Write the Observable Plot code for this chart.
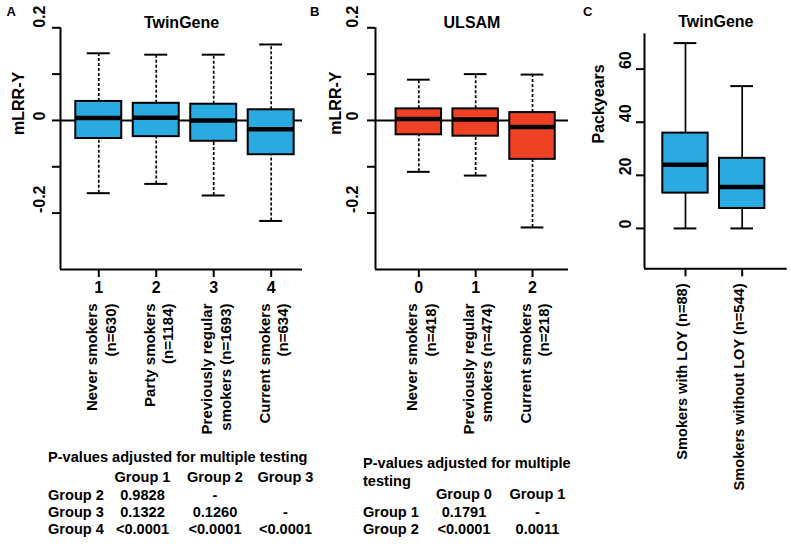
<!DOCTYPE html>
<html>
<head>
<meta charset="utf-8">
<script src="https://cdn.jsdelivr.net/npm/d3@7"></script>
<script src="https://cdn.jsdelivr.net/npm/@observablehq/plot@0.6"></script>
<style>
  html, body { margin: 0; padding: 0; background: #fff; }
  #root { position: relative; width: 791px; height: 544px; overflow: hidden; background: #fff;
          font-family: "Liberation Sans", Arial, Helvetica, sans-serif; font-weight: bold; color: #000; }
  #root svg { position: absolute; top: 0; background: none; overflow: visible; max-width: none; }
  .cell { position: absolute; white-space: pre; font-size: 14.6px; }
  .letter { position: absolute; font-size: 13px; line-height: 13px; }
</style>
</head>
<body>
<div id="root"></div>
<script>
// ---------------- DATA ----------------
// Panel A: TwinGene, mLRR-Y by smoking group
const groupsA = ["1", "2", "3", "4"];
const labelsA = ["Never smokers\n(n=630)", "Party smokers\n(n=1184)", "Previously regular\nsmokers (n=1693)", "Current smokers\n(n=634)"];
const minA = [-0.157, -0.137, -0.162, -0.217];
const q1A  = [-0.039, -0.035, -0.045, -0.074];
const medA = [0.005, 0.006, 0.000, -0.019];
const q3A  = [0.041, 0.037, 0.035, 0.023];
const maxA = [0.145, 0.142, 0.142, 0.164];

// Panel B: ULSAM
const groupsB = ["0", "1", "2"];
const labelsB = ["Never smokers\n(n=418)", "Previously regular\nsmokers (n=474)", "Current smokers\n(n=218)"];
const minB = [-0.111, -0.119, -0.231];
const q1B  = [-0.031, -0.034, -0.084];
const medB = [0.003, 0.002, -0.014];
const q3B  = [0.025, 0.025, 0.017];
const maxB = [0.088, 0.100, 0.099];

// Panel C: TwinGene packyears
const labelsC = ["Smokers with LOY", "Smokers without LOY"];
const countsC = ["(n=88)", "(n=544)"];
const minC = [0, 0];
const q1C  = [13.3, 7.5];
const medC = [24.0, 15.6];
const q3C  = [35.9, 26.4];
const maxC = [69.8, 53.6];

// Axis ticks
const mlrrTicks = [-0.2, -0.1, 0, 0.1, 0.2];
const mlrrTickLabels = [-0.2, 0, 0.2];
const packTicks = [0, 20, 40, 60];

// P-value tables
const pTitleA = ["P-values adjusted for multiple testing"];
const pColsA = ["Group 1", "Group 2", "Group 3"];
const pRowsA = ["Group 2", "Group 3", "Group 4"];
const pValsA = [["0.9828", "-", ""], ["0.1322", "0.1260", "-"], ["<0.0001", "<0.0001", "<0.0001"]];

const pTitleB = ["P-values adjusted for multiple", "testing"];
const pColsB = ["Group 0", "Group 1"];
const pRowsB = ["Group 1", "Group 2"];
const pValsB = [["0.1791", "-"], ["<0.0001", "0.0011"]];

// ---------------- HELPERS ----------------
const FONT = "'Liberation Sans', Arial, Helvetica, sans-serif";
const BLUE = "#29ABE2";
const RED = "#EF4123";
const BOX = 0.4, CAP = 0.2;

function rowsOf(groups, labels, mn, q1, md, q3, mx) {
  return groups.map((g, i) => ({pos: i + 1, group: g, label: labels[i], min: mn[i], q1: q1[i], med: md[i], q3: q3[i], max: mx[i]}));
}

function boxMarks(rows, fill, dashed) {
  const dash = dashed ? {strokeDasharray: "3,2"} : {};
  return [
    Plot.ruleX(rows, {x: "pos", y1: "q3", y2: "max", stroke: "black", strokeWidth: 1.7, ...dash}),
    Plot.ruleX(rows, {x: "pos", y1: "min", y2: "q1", stroke: "black", strokeWidth: 1.7, ...dash}),
    Plot.ruleY(rows, {y: "max", x1: d => d.pos - CAP, x2: d => d.pos + CAP, stroke: "black", strokeWidth: 2}),
    Plot.ruleY(rows, {y: "min", x1: d => d.pos - CAP, x2: d => d.pos + CAP, stroke: "black", strokeWidth: 2}),
    Plot.rect(rows, {x1: d => d.pos - BOX, x2: d => d.pos + BOX, y1: "q1", y2: "q3", fill, stroke: "black", strokeWidth: 2}),
    Plot.ruleY(rows, {y: "med", x1: d => d.pos - BOX, x2: d => d.pos + BOX, stroke: "black", strokeWidth: 4.5})
  ];
}

function frameMarks(xDomain, yDomain) {
  return [
    Plot.ruleX([xDomain[0]], {stroke: "black", strokeWidth: 2}),
    Plot.ruleY([yDomain[0]], {stroke: "black", strokeWidth: 2})
  ];
}

const root = document.getElementById("root");

function place(svg, left) {
  svg.style.left = left + "px";
  root.appendChild(svg);
}

// ---------------- PANEL A ----------------
const rowsA = rowsOf(groupsA, labelsA, minA, q1A, medA, q3A, maxA);
const xDomA = [0.334, 4.545], yDomA = [-0.3218, 0.2];
const plotA = Plot.plot({
  width: 310, height: 445,
  marginLeft: 60, marginRight: 8, marginTop: 27.3, marginBottom: 176,
  x: {domain: xDomA}, y: {domain: yDomA},
  style: {fontFamily: FONT, fontWeight: "bold", background: "none", overflow: "visible"},
  marks: [
    Plot.ruleY([0], {stroke: "black", strokeWidth: 2}),
    ...boxMarks(rowsA, BLUE, true),
    ...frameMarks(xDomA, yDomA),
    Plot.axisY({ticks: mlrrTicks, tickSize: 8, tickFormat: () => "", strokeWidth: 2, label: null}),
    Plot.axisX({ticks: rowsA.map(d => d.pos), tickSize: 8, tickFormat: () => "", strokeWidth: 2, label: null}),
    Plot.text(mlrrTickLabels, {y: d => d, text: d => String(d), frameAnchor: "left", dx: -21, rotate: -90, fontSize: 16}),
    Plot.text(["mLRR-Y"], {text: d => d, frameAnchor: "left", dx: -42, dy: -13.7, rotate: -90, fontSize: 16}),
    Plot.text(["TwinGene"], {text: d => d, frameAnchor: "top", dy: -10.8, fontSize: 16}),
    Plot.text(rowsA, {x: "pos", text: "group", frameAnchor: "bottom", dy: 23.7, fontSize: 16}),
    Plot.text(rowsA, {x: "pos", text: "label", frameAnchor: "bottom", dy: 34, dx: 1.8, rotate: -90, textAnchor: "end", lineAnchor: "middle", lineHeight: 1.22, fontSize: 15})
  ]
});
place(plotA, 0);

// ---------------- PANEL B ----------------
const rowsB = rowsOf(groupsB, labelsB, minB, q1B, medB, q3B, maxB);
const xDomB = [0.238, 3.633], yDomB = [-0.3218, 0.2];
const plotB = Plot.plot({
  width: 275, height: 445,
  marginLeft: 75, marginRight: 7, marginTop: 27.3, marginBottom: 176,
  x: {domain: xDomB}, y: {domain: yDomB},
  style: {fontFamily: FONT, fontWeight: "bold", background: "none", overflow: "visible"},
  marks: [
    Plot.ruleY([0], {stroke: "black", strokeWidth: 2}),
    ...boxMarks(rowsB, RED, true),
    ...frameMarks(xDomB, yDomB),
    Plot.axisY({ticks: mlrrTicks, tickSize: 8, tickFormat: () => "", strokeWidth: 2, label: null}),
    Plot.axisX({ticks: rowsB.map(d => d.pos), tickSize: 8, tickFormat: () => "", strokeWidth: 2, label: null}),
    Plot.text(mlrrTickLabels, {y: d => d, text: d => String(d), frameAnchor: "left", dx: -23, rotate: -90, fontSize: 16}),
    Plot.text(["mLRR-Y"], {text: d => d, frameAnchor: "left", dx: -40, dy: -14, rotate: -90, fontSize: 16}),
    Plot.text(["ULSAM"], {text: d => d, frameAnchor: "top", dy: -10.8, fontSize: 16}),
    Plot.text(rowsB, {x: "pos", text: "group", frameAnchor: "bottom", dy: 23.7, fontSize: 16}),
    Plot.text(rowsB, {x: "pos", text: "label", frameAnchor: "bottom", dy: 34, dx: 1.8, rotate: -90, textAnchor: "end", lineAnchor: "middle", lineHeight: 1.22, fontSize: 15})
  ]
});
place(plotB, 300);

// ---------------- PANEL C ----------------
const rowsC = rowsOf(labelsC, labelsC, minC, q1C, medC, q3C, maxC).map((d, i) => ({...d, n: countsC[i]}));
const xDomC = [0.277, 2.794], yDomC = [-15.2, 73.3];
const plotC = Plot.plot({
  width: 231, height: 500,
  marginLeft: 84, marginRight: 4.3, marginTop: 33.3, marginBottom: 231.7,
  x: {domain: xDomC}, y: {domain: yDomC},
  style: {fontFamily: FONT, fontWeight: "bold", background: "none", overflow: "visible"},
  marks: [
    ...boxMarks(rowsC, BLUE, false),
    ...frameMarks(xDomC, yDomC),
    Plot.axisY({ticks: packTicks, tickSize: 8, tickFormat: () => "", strokeWidth: 2, label: null}),
    Plot.axisX({ticks: rowsC.map(d => d.pos), tickSize: 8, tickFormat: () => "", strokeWidth: 2, label: null}),
    Plot.text(packTicks, {y: d => d, text: d => String(d), frameAnchor: "left", dx: -19, rotate: -90, fontSize: 16}),
    Plot.text(["Packyears"], {text: d => d, frameAnchor: "left", dx: -46, dy: -7.8, rotate: -90, fontSize: 16}),
    Plot.text(["TwinGene"], {text: d => d, frameAnchor: "top", dy: -18.3, fontSize: 16}),
    Plot.text(rowsC, {x: "pos", text: d => d.label + " " + d.n, frameAnchor: "bottom", dy: 14.7, dx: 1.5, rotate: -90, textAnchor: "end", fontSize: 14.6, ariaLabel: "clabels"})
  ]
});
place(plotC, 560);
// make the "(n=..)" part regular weight
plotC.querySelectorAll('g[aria-label="clabels"] text').forEach(t => {
  const full = t.textContent;
  const k = full.lastIndexOf(" (");
  if (k < 0) return;
  t.textContent = "";
  const a = document.createElementNS("http://www.w3.org/2000/svg", "tspan");
  a.textContent = full.slice(0, k + 1);
  const b = document.createElementNS("http://www.w3.org/2000/svg", "tspan");
  b.textContent = full.slice(k + 1);
  b.setAttribute("font-weight", "normal");
  t.appendChild(a); t.appendChild(b);
});

// ---------------- PANEL LETTERS ----------------
[["A", 6.5], ["B", 310], ["C", 583]].forEach(([s, x]) => {
  const d = document.createElement("div");
  d.className = "letter"; d.textContent = s;
  d.style.left = x + "px"; d.style.top = "5px";
  root.appendChild(d);
});

// ---------------- TABLES ----------------
function cell(text, x, yCenter, h, center) {
  const d = document.createElement("div");
  d.className = "cell";
  d.textContent = text;
  d.style.left = x + "px";
  d.style.top = (yCenter - h / 2) + "px";
  d.style.lineHeight = h + "px";
  if (center) d.style.transform = "translateX(-50%)";
  root.appendChild(d);
}
function table({title, cols, rows, vals, left, titleY, titleStep, colX, headY, rowH}) {
  title.forEach((t, i) => cell(t, left, titleY + i * titleStep, rowH, false));
  cols.forEach((c, j) => cell(c, colX[j], headY, rowH, true));
  rows.forEach((r, i) => {
    cell(r, left, headY + (i + 1) * rowH, rowH, false);
    vals[i].forEach((v, j) => { if (v) cell(v, colX[j], headY + (i + 1) * rowH, rowH, true); });
  });
}
table({title: pTitleA, cols: pColsA, rows: pRowsA, vals: pValsA, left: 48,
       titleY: 458, titleStep: 18, colX: [142.5, 215, 285.5], headY: 478, rowH: 17.3});
table({title: pTitleB, cols: pColsB, rows: pRowsB, vals: pValsB, left: 363,
       titleY: 463.5, titleStep: 18.2, colX: [464, 537.5], headY: 495, rowH: 17.5});
</script>
</body>
</html>
